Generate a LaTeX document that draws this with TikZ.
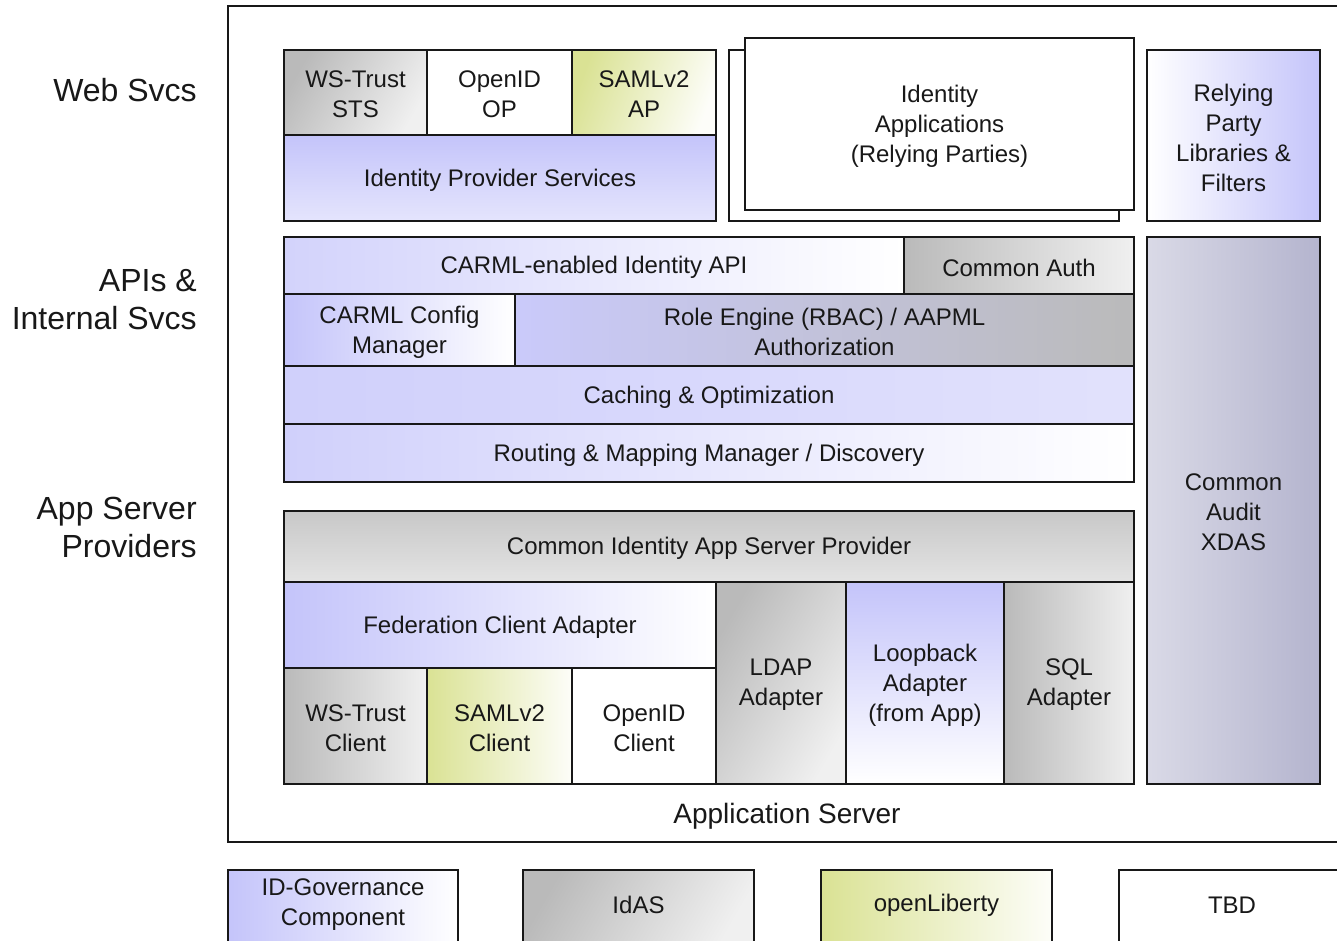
\documentclass[tikz,border=0pt]{standalone}
\usepackage{fontspec}
\setmainfont{Liberation Sans}
\usetikzlibrary{fit}
\definecolor{lav}{RGB}{196,196,250}
\definecolor{gry}{RGB}{186,186,186}
\definecolor{olv}{RGB}{218,226,148}
\definecolor{aud}{RGB}{180,180,206}
\definecolor{ink}{RGB}{24,24,24}
\begin{document}
\begin{tikzpicture}[x=0.75pt,y=-0.75pt,
  txt/.style={inner sep=0pt, align=center, font=\fontsize{18}{22.5}\selectfont, text=ink, yshift=-1.5pt},
  box/.style={draw=ink, line width=1.2pt, inner sep=0pt},
  plain/.style={box, fill=white},
  lavLR/.style={box, left color=lav, right color=white},
  lavRL/.style={box, left color=white, right color=lav},
  gryLR/.style={box, left color=gry, right color=white!94!black},
  olvLR/.style={box, left color=olv, right color=white!94!olv},
  side/.style={inner sep=0pt, align=right, anchor=east, font=\fontsize{24}{28.5}\selectfont, text=ink}
]
\clip (0,0) rectangle (1337,940);
\fill[white] (0,0) rectangle (1337,940);

% outer application server frame
\node[draw=ink, line width=1.1pt, inner sep=0pt, fit={(228,6)(1360,842)}] (appsrv) {};
\node[font=\fontsize{21}{25}\selectfont, text=ink, inner sep=0pt] (appsrvlbl) at (787,816) {Application Server};

% row labels
\node[side] (lweb) at (197,90) {Web Svcs};
\node[side] (lapi) at (197,300) {APIs \&\\Internal Svcs};
\node[side] (lprov) at (197,527) {App Server\\Providers};

% web services tier
\node[gryLR, shading angle=60, fit={(284,50)(427,135)}, label={[txt]center:{WS-Trust\\STS}}] (wssts) {};
\node[plain, fit={(427,50)(572,135)}, label={[txt]center:{OpenID\\OP}}] (oidop) {};
\node[olvLR, shading angle=70, fit={(572,50)(716,135)}, label={[txt]center:{SAMLv2\\AP}}] (samlap) {};
\node[box, top color=lav, bottom color=lav!45!white, fit={(284,135)(716,221)}, label={[txt]center:{Identity Provider Services}}] (idps) {};

\node[plain, fit={(729,50)(1119,221)}] (idappsback) {};
\node[plain, fit={(745,38)(1134,210)}, label={[txt]center:{Identity\\Applications\\(Relying Parties)}}] (idapps) {};

\node[lavRL, fit={(1147,50)(1320,221)}, label={[txt]center:{Relying\\Party\\Libraries \&\\Filters}}] (rplib) {};

% API and internal services tier
\node[box, left color=lav!75!white, right color=white, fit={(284,237)(904,294)}, label={[txt]center:{CARML-enabled Identity API}}] (carmlapi) {};
\node[gryLR, fit={(904,237)(1134,294)}, label={[txt]center:{Common Auth}}] (cauth) {};
\node[lavLR, fit={(284,294)(515,366)}, label={[txt]center:{CARML Config\\Manager}}] (carmlcfg) {};
\node[box, left color=lav!90!white, right color=gry, fit={(515,294)(1134,366)}, label={[txt]center:{Role Engine (RBAC) / AAPML\\Authorization}}] (role) {};
\node[box, left color=lav!80!white, right color=lav!50!white, fit={(284,366)(1134,424)}, label={[txt]center:{Caching \& Optimization}}] (cache) {};
\node[box, left color=lav!80!white, right color=white, fit={(284,424)(1134,482)}, label={[txt]center:{Routing \& Mapping Manager / Discovery}}] (route) {};

\node[box, left color=aud!50!white, right color=aud, fit={(1147,237)(1320,784)}, label={[txt]center:{Common\\Audit\\XDAS}}] (audit) {};

% app server provider tier
\node[box, top color=gry!80!white, bottom color=gry!40!white, fit={(284,511)(1134,582)}, label={[txt]center:{Common Identity App Server Provider}}] (cisp) {};
\node[lavLR, fit={(284,582)(716,668)}, label={[txt]center:{Federation Client Adapter}}] (fedca) {};
\node[gryLR, fit={(284,668)(427,784)}, label={[txt]center:{WS-Trust\\Client}}] (wscli) {};
\node[olvLR, fit={(427,668)(572,784)}, label={[txt]center:{SAMLv2\\Client}}] (samlcli) {};
\node[plain, fit={(572,668)(716,784)}, label={[txt]center:{OpenID\\Client}}] (oidcli) {};
\node[gryLR, shading angle=60, fit={(716,582)(846,784)}, label={[txt]center:{LDAP\\Adapter}}] (ldap) {};
\node[box, top color=lav, bottom color=white, fit={(846,582)(1004,784)}, label={[txt]center:{Loopback\\Adapter\\(from App)}}] (loop) {};
\node[gryLR, fit={(1004,582)(1134,784)}, label={[txt]center:{SQL\\Adapter}}] (sql) {};

% legend (boxes run past the lower edge)
\node[lavLR, fit={(228,870)(458,948)}, label={[txt, yshift=4.5pt]center:{ID-Governance\\Component}}] (kgov) {};
\node[gryLR, shading angle=60, fit={(523,870)(754,948)}, label={[txt, yshift=4.5pt]center:{IdAS}}] (kidas) {};
\node[olvLR, fit={(821,870)(1052,948)}, label={[txt, yshift=4.5pt]center:{openLiberty}}] (klib) {};
\node[plain, fit={(1119,870)(1345,948)}, label={[txt, yshift=4.5pt]center:{TBD}}] (ktbd) {};
\end{tikzpicture}
\end{document}
